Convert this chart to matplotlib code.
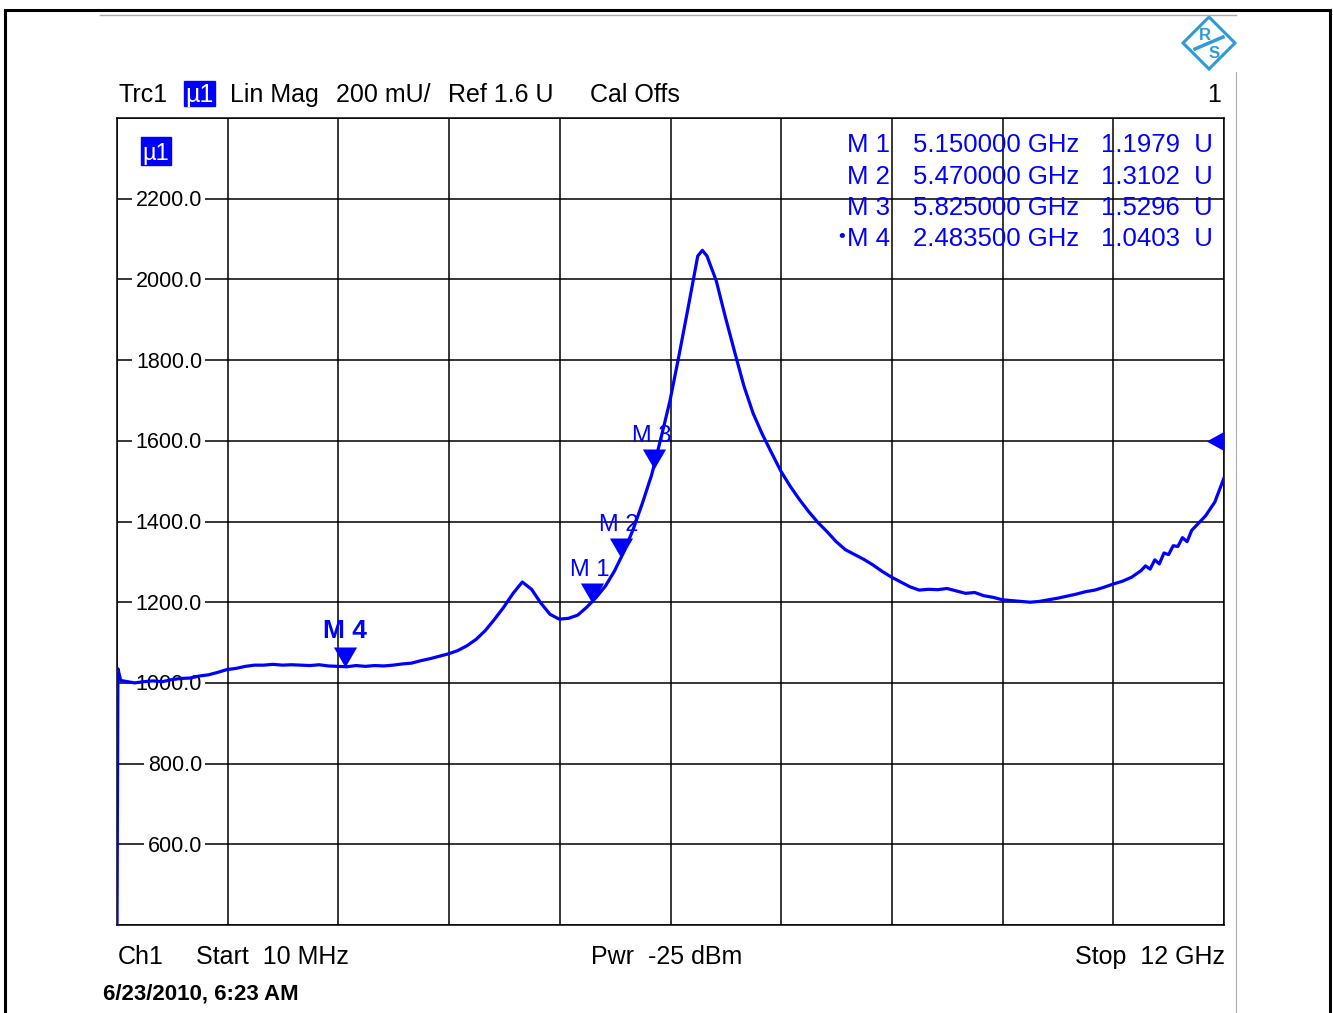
import matplotlib
matplotlib.use('Agg')
import matplotlib.pyplot as plt
from matplotlib.path import Path
from matplotlib.patches import Rectangle, Polygon
from matplotlib.lines import Line2D
import numpy as np

# ---------------- data ----------------
freq_ghz = [0.01, 0.02, 0.05, 0.1, 0.2, 0.3, 0.4, 0.5, 0.6, 0.7, 0.8, 0.9,
            1.0, 1.1, 1.2, 1.3, 1.4, 1.5, 1.6, 1.7, 1.8, 1.9,
            2.0, 2.1, 2.2, 2.3, 2.4, 2.5, 2.6, 2.7, 2.8, 2.9,
            3.0, 3.1, 3.2, 3.3, 3.4, 3.5, 3.6, 3.7, 3.8, 3.9,
            4.0, 4.1, 4.2, 4.3, 4.4, 4.5, 4.6, 4.7, 4.8, 4.9,
            5.0, 5.1, 5.2, 5.3, 5.4, 5.5, 5.6, 5.7, 5.8, 5.9,
            6.0, 6.1, 6.2, 6.3, 6.35, 6.4, 6.5, 6.6, 6.7, 6.8, 6.9,
            7.0, 7.1, 7.2, 7.3, 7.4, 7.5, 7.6, 7.7, 7.8, 7.9,
            8.0, 8.1, 8.2, 8.3, 8.4, 8.5, 8.6, 8.7, 8.8, 8.9,
            9.0, 9.1, 9.2, 9.3, 9.4, 9.5, 9.6, 9.7, 9.8, 9.9,
            10.0, 10.1, 10.2, 10.3, 10.4, 10.5, 10.6, 10.7, 10.8, 10.9,
            11.0, 11.05, 11.1, 11.15, 11.2, 11.25, 11.3, 11.35, 11.4, 11.45,
            11.5, 11.55, 11.6, 11.65, 11.7, 11.8, 11.9, 12.0]
mag_mu = [400, 1035, 1006, 1004, 1000, 1003, 1005, 1003, 1008, 1011, 1012, 1017,
          1020, 1026, 1033, 1036, 1041, 1044, 1044, 1046, 1044, 1045,
          1044, 1043, 1045, 1042, 1041, 1040, 1043, 1041, 1043, 1042,
          1044, 1047, 1049, 1055, 1060, 1066, 1072, 1080, 1092, 1108,
          1130, 1158, 1188, 1222, 1250, 1232, 1198, 1170, 1158, 1160,
          1168, 1188, 1212, 1240, 1278, 1325, 1380, 1445, 1515, 1605,
          1700, 1815, 1935, 2058, 2072, 2058, 1997, 1906, 1820, 1736, 1668,
          1616, 1570, 1525, 1488, 1455, 1425, 1398, 1375, 1350, 1330,
          1318, 1306, 1292, 1276, 1262, 1250, 1238, 1230, 1232, 1231,
          1234, 1228, 1222, 1224, 1216, 1212, 1206, 1204, 1202, 1200,
          1202, 1206, 1210, 1215, 1220, 1226, 1230, 1237, 1245, 1252,
          1262, 1270, 1278, 1290, 1282, 1305, 1295, 1322, 1318, 1340,
          1338, 1360, 1350, 1378, 1390, 1414, 1448, 1508]

marker_names = ["M 1", "M 2", "M 3", "M 4"]
marker_freq_ghz = [5.15, 5.47, 5.825, 2.4835]
marker_mag_mu = [1197.9, 1310.2, 1529.6, 1040.3]
marker_freq_text = ["5.150000 GHz", "5.470000 GHz", "5.825000 GHz", "2.483500 GHz"]
marker_val_text = ["1.1979  U", "1.3102  U", "1.5296  U", "1.0403  U"]
active_marker = "M 4"

y_tick_values = [600, 800, 1000, 1200, 1400, 1600, 1800, 2000, 2200]
y_tick_labels = ["600.0", "800.0", "1000.0", "1200.0", "1400.0",
                 "1600.0", "1800.0", "2000.0", "2200.0"]
ref_level_mu = 1600
x_start, x_stop = 0.01, 12.0
y_min, y_max = 400, 2400

# ---------------- figure ----------------
plt.rcParams['font.family'] = ['Liberation Sans', 'DejaVu Sans']
W, H, DPI = 1333, 1013, 100
BLUE = '#0000ff'
fig = plt.figure(figsize=(W / DPI, H / DPI), dpi=DPI)
fig.patch.set_facecolor('white')


def fx(x):
    return x / W


def fy(y):
    return 1 - y / H


ax = fig.add_axes([fx(117), fy(925), (1224 - 117) / W, (925 - 118) / H])
ax.set_xlim(x_start, x_stop)
ax.set_ylim(y_min, y_max)
ax.set_xticks(np.linspace(x_start, x_stop, 11))
ax.set_yticks(np.arange(y_min, y_max + 1, 200))
ax.set_axisbelow(True)
ax.grid(True, color='black', lw=1.1)
ax.tick_params(length=0, labelbottom=False, labelleft=False)
for s in ax.spines.values():
    s.set_color('black')
    s.set_linewidth(1.1)

# y labels with white background cutting the grid
for v, lab in zip(y_tick_values, y_tick_labels):
    ax.annotate(lab, xy=(0, v), xycoords=('axes fraction', 'data'),
                xytext=(85, -7.5), textcoords='offset pixels',
                ha='right', va='baseline', fontsize=15.5, color='black',
                bbox=dict(facecolor='white', edgecolor='none', pad=2.5),
                zorder=3, annotation_clip=False)

# trace
ax.plot(freq_ghz, mag_mu, color=BLUE, lw=2.3, zorder=5, solid_joinstyle='round')

# markers (tip at the data point)
tri_down = Path([(-0.58, 1.0), (0.58, 1.0), (0.0, 0.0), (-0.58, 1.0)],
                [Path.MOVETO, Path.LINETO, Path.LINETO, Path.CLOSEPOLY])
ax.plot(marker_freq_ghz, marker_mag_mu, linestyle='none', marker=tri_down,
        ms=28.8, color=BLUE, mew=0, zorder=6, clip_on=False)
for name, f, v in zip(marker_names, marker_freq_ghz, marker_mag_mu):
    if name == active_marker:
        ax.annotate(name, xy=(f, v), xytext=(0, 29), textcoords='offset pixels',
                    ha='center', va='baseline', fontsize=19, fontweight='bold',
                    color=BLUE, zorder=7)
    else:
        ax.annotate(name, xy=(f, v), xytext=(-2, 27), textcoords='offset pixels',
                    ha='center', va='baseline', fontsize=17, color=BLUE, zorder=7)

# reference-level arrow at the right edge
tri_left = Path([(-1.0, 0.0), (0.0, 0.55), (0.0, -0.55), (-1.0, 0.0)],
                [Path.MOVETO, Path.LINETO, Path.LINETO, Path.CLOSEPOLY])
ax.plot([x_stop], [ref_level_mu], linestyle='none', marker=tri_left, ms=25.5,
        color=BLUE, mew=0, zorder=6, clip_on=False)

# marker table
row_base = [152, 184, 215, 246]
for i, (n, ft, vt) in enumerate(zip(marker_names, marker_freq_text, marker_val_text)):
    fig.text(fx(890), fy(row_base[i]), n, ha='right', va='baseline',
             fontsize=18.5, color=BLUE, zorder=8)
    fig.text(fx(1079), fy(row_base[i]), ft, ha='right', va='baseline',
             fontsize=18.5, color=BLUE, zorder=8)
    fig.text(fx(1213), fy(row_base[i]), vt, ha='right', va='baseline',
             fontsize=18.5, color=BLUE, zorder=8)
    if n == active_marker:
        fig.text(fx(842), fy(row_base[i] - 9), '\u2022', ha='center', va='center',
                 fontsize=14, color=BLUE, zorder=8)

# mu1 label inside plot
fig.patches.append(Rectangle((fx(141), fy(165)), 30 / W, 28 / H,
                             transform=fig.transFigure, color=BLUE, zorder=8))
fig.text(fx(156), fy(160), '\u00b51', ha='center', va='baseline', fontsize=17,
         color='white', zorder=9)

# header
fig.text(fx(118), fy(102), 'Trc1', fontsize=18, va='baseline')
fig.patches.append(Rectangle((fx(184), fy(106)), 31 / W, 25 / H,
                             transform=fig.transFigure, color=BLUE, zorder=8))
fig.text(fx(199.5), fy(102), '\u00b51', ha='center', va='baseline', fontsize=18,
         color='white', zorder=9)
fig.text(fx(230), fy(102), 'Lin Mag', fontsize=18, va='baseline')
fig.text(fx(336), fy(102), '200 mU/', fontsize=18, va='baseline')
fig.text(fx(448), fy(102), 'Ref 1.6 U', fontsize=18, va='baseline')
fig.text(fx(590), fy(102), 'Cal Offs', fontsize=18, va='baseline')
fig.text(fx(1221), fy(102), '1', fontsize=18, va='baseline', ha='right')

# footer
fig.text(fx(118), fy(964), 'Ch1', fontsize=18, va='baseline')
fig.text(fx(196), fy(964), 'Start  10 MHz', fontsize=18, va='baseline')
fig.text(fx(591), fy(964), 'Pwr  -25 dBm', fontsize=18, va='baseline')
fig.text(fx(1225), fy(964), 'Stop  12 GHz', fontsize=18, va='baseline', ha='right')
fig.text(fx(103), fy(999), '6/23/2010, 6:23 AM', fontsize=16, fontweight='bold',
         va='baseline')

# frame lines
fig.lines.append(Line2D([fx(5), fx(5)], [fy(10), fy(1013)], transform=fig.transFigure,
                        color='black', lw=2.2))
fig.lines.append(Line2D([fx(5), fx(1330)], [fy(10), fy(10)], transform=fig.transFigure,
                        color='black', lw=2.2))
fig.lines.append(Line2D([fx(1330), fx(1330)], [fy(10), fy(1013)], transform=fig.transFigure,
                        color='black', lw=2.2))
fig.lines.append(Line2D([fx(100), fx(1236)], [fy(15), fy(15)], transform=fig.transFigure,
                        color='#a8a8a8', lw=1.0))
fig.lines.append(Line2D([fx(1236), fx(1236)], [fy(72), fy(1013)], transform=fig.transFigure,
                        color='#b0b0b0', lw=0.8))

# R&S logo (diamond)
cx, cy, r = 1209, 43, 26
LOGO = '#2f9ad8'
fig.patches.append(Polygon([(fx(cx), fy(cy - r)), (fx(cx + r), fy(cy)),
                            (fx(cx), fy(cy + r)), (fx(cx - r), fy(cy))],
                           closed=True, fill=False, ec=LOGO, lw=2.2,
                           transform=fig.transFigure))
fig.text(fx(cx - 4), fy(cy - 8), 'R', ha='center', va='center', fontsize=12,
         fontweight='bold', color=LOGO)
fig.text(fx(cx + 5), fy(cy + 11), 'S', ha='center', va='center', fontsize=12,
         fontweight='bold', color=LOGO)
fig.lines.append(Line2D([fx(cx - 14), fx(cx + 14)], [fy(cy + 6), fy(cy - 6)],
                        transform=fig.transFigure, color=LOGO, lw=2.5))

fig.savefig('out.png', dpi=DPI, facecolor='white')
